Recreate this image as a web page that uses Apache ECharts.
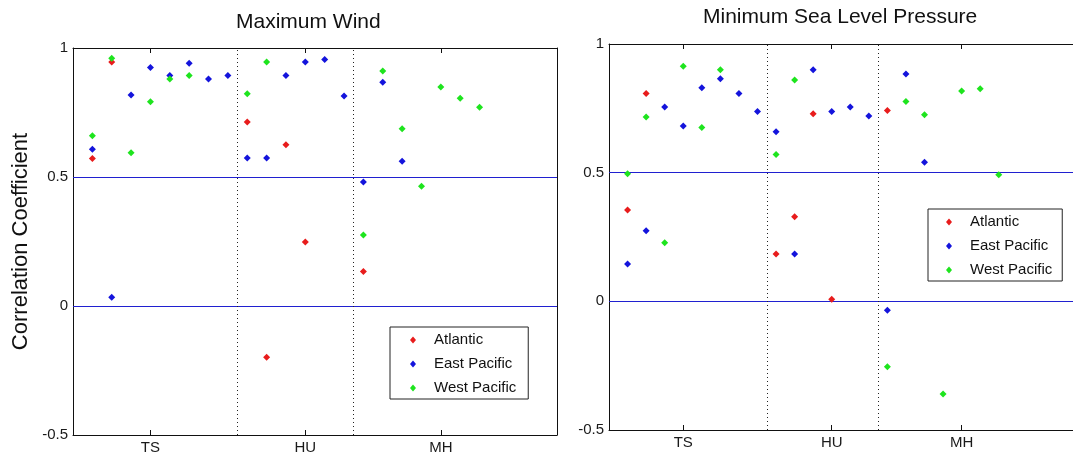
<!DOCTYPE html>
<html>
<head>
<meta charset="utf-8">
<script src="https://cdn.jsdelivr.net/npm/echarts@6/dist/echarts.min.js"></script>
<style>
html,body{margin:0;padding:0;background:#fff;}
#chart{width:1073px;height:455px;}
</style>
</head>
<body>
<div id="chart"></div>
<script>
// ---- data ----
const xTickValues = [4, 12, 19];
const xTickLabels = ['TS', 'HU', 'MH'];
const dividerPositions = [8.5, 14.5];
const referenceLevels = [0.5, 0];
const seriesNames = ['Atlantic', 'East Pacific', 'West Pacific'];
const panelTitles = ['Maximum Wind', 'Minimum Sea Level Pressure'];
const yAxisTitle = 'Correlation Coefficient';

// Maximum Wind: [x slot, correlation]
const windAtlantic = [[1,0.572],[2,0.946],[9,0.713],[10,-0.199],[11,0.625],[12,0.248],[15,0.134]];
const windEastPacific = [[1,0.608],[2,0.034],[3,0.818],[4,0.924],[5,0.893],[6,0.941],[7,0.880],[8,0.893],[9,0.574],[10,0.574],[11,0.893],[12,0.946],[13,0.955],[14,0.814],[15,0.481],[16,0.867],[17,0.561]];
const windWestPacific = [[1,0.660],[2,0.960],[3,0.594],[4,0.792],[5,0.880],[6,0.893],[9,0.823],[10,0.946],[15,0.275],[16,0.911],[17,0.687],[18,0.464],[19,0.849],[20,0.805],[21,0.770]];

// Minimum Sea Level Pressure
const presAtlantic = [[1,0.355],[2,0.808],[9,0.184],[10,0.329],[11,0.729],[12,0.008],[15,0.742]];
const presEastPacific = [[1,0.145],[2,0.274],[3,0.755],[4,0.681],[5,0.830],[6,0.865],[7,0.808],[8,0.738],[9,0.659],[10,0.184],[11,0.900],[12,0.738],[13,0.755],[14,0.720],[15,-0.035],[16,0.883],[17,0.540]];
const presWestPacific = [[1,0.496],[2,0.716],[3,0.228],[4,0.914],[5,0.676],[6,0.900],[9,0.571],[10,0.860],[15,-0.254],[16,0.777],[17,0.725],[18,-0.360],[19,0.817],[20,0.826],[21,0.492]];

// ---- styling ----
const colors = ['#e81c1c', '#1414dc', '#1ee41e'];
const refColor = '#2020d0';
const font = 'Liberation Sans, Arial, sans-serif';

const chart = echarts.init(document.getElementById('chart'), null, {renderer: 'canvas'});

const grids = [
  {left: 73, top: 48, width: 484, height: 387},
  {left: 609, top: 44, width: 473, height: 386}
];

function xAxes(gridIndex, position) {
  const isBottom = position === 'bottom';
  return {
    type: 'value', gridIndex, position, min: 0, max: 25,
    axisLine: {show: true, onZero: false, lineStyle: {color: '#111', width: 1}},
    axisTick: {show: true, inside: true, length: 5, customValues: xTickValues, lineStyle: {color: '#111'}},
    axisLabel: {
      show: isBottom, customValues: xTickValues, margin: 5,
      color: '#1a1a1a', fontSize: 15, fontFamily: font,
      formatter: v => xTickLabels[xTickValues.indexOf(v)] || ''
    },
    splitLine: {show: false}
  };
}
function yAxes(gridIndex, position, withName) {
  const isLeft = position === 'left';
  const a = {
    type: 'value', gridIndex, position, min: -0.5, max: 1, interval: 0.5,
    axisLine: {show: true, onZero: false, lineStyle: {color: '#111', width: 1}},
    axisTick: {show: true, inside: true, length: 5, lineStyle: {color: '#111'}},
    axisLabel: {show: isLeft, margin: 5, color: '#1a1a1a', fontSize: 15, fontFamily: font},
    splitLine: {show: false}
  };
  if (withName) {
    a.name = yAxisTitle;
    a.nameLocation = 'middle';
    a.nameGap = 41;
    a.nameRotate = 90;
    a.nameTextStyle = {fontSize: 22, color: '#111', fontFamily: font};
  }
  return a;
}

function markLines() {
  return {
    silent: true, symbol: 'none', animation: false,
    label: {show: false},
    lineStyle: {color: refColor, width: 1, type: 'solid', opacity: 1},
    emphasis: {disabled: true},
    data: [
      ...referenceLevels.map(v => ({yAxis: v, lineStyle: {color: refColor, width: 1, type: 'solid'}})),
      ...dividerPositions.map(v => ({xAxis: v, lineStyle: {color: '#222', width: 1, type: [1, 3]}}))
    ]
  };
}

function scatter(name, data, colorIdx, axisIdx, withLines) {
  const s = {
    name, type: 'scatter', data,
    xAxisIndex: axisIdx, yAxisIndex: axisIdx,
    symbol: 'diamond', symbolSize: 7,
    itemStyle: {color: colors[colorIdx], opacity: 1},
    z: 5, animation: false
  };
  if (withLines) s.markLine = markLines();
  return s;
}

function legend(left, top, padding) {
  return {
    left, top, orient: 'vertical',
    data: seriesNames, icon: 'diamond', itemWidth: 6, itemHeight: 7, itemGap: 8,
    selectedMode: false,
    backgroundColor: '#fff', borderColor: '#222', borderWidth: 1, borderRadius: 0,
    padding,
    textStyle: {fontSize: 15, color: '#111', fontFamily: font, lineHeight: 16, padding: [0, 0, 0, 13]}
  };
}

chart.setOption({
  backgroundColor: '#fff',
  animation: false,
  title: [
    {text: panelTitles[0], left: 236, top: 12, padding: 0, textStyle: {fontSize: 21, fontWeight: 'normal', color: '#111', fontFamily: font}},
    {text: panelTitles[1], left: 703, top: 7, padding: 0, textStyle: {fontSize: 21, fontWeight: 'normal', color: '#111', fontFamily: font}}
  ],
  legend: [
    legend(390, 327, [5, 12, 3, 20]),
    legend(928, 209, [5, 10, 3, 18])
  ],
  grid: grids,
  xAxis: [xAxes(0, 'bottom'), xAxes(0, 'top'), xAxes(1, 'bottom'), xAxes(1, 'top')],
  yAxis: [yAxes(0, 'left', true), yAxes(0, 'right', false), yAxes(1, 'left', false), yAxes(1, 'right', false)],
  series: [
    scatter(seriesNames[0], windAtlantic, 0, 0, true),
    scatter(seriesNames[1], windEastPacific, 1, 0, false),
    scatter(seriesNames[2], windWestPacific, 2, 0, false),
    scatter(seriesNames[0], presAtlantic, 0, 2, true),
    scatter(seriesNames[1], presEastPacific, 1, 2, false),
    scatter(seriesNames[2], presWestPacific, 2, 2, false)
  ]
});
</script>
</body>
</html>
